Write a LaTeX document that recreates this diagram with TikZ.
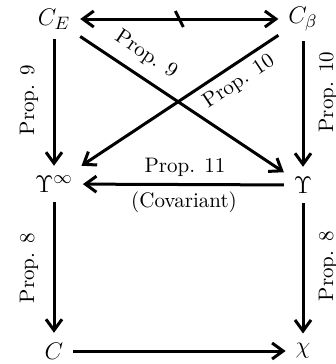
\documentclass[tikz,border=0pt]{standalone}
\usetikzlibrary{arrows.meta}
\begin{document}
\begin{tikzpicture}[x=0.5pt,y=-0.5pt,
  obj/.style={inner sep=0pt,outer sep=5pt,font=\fontsize{13}{15}\selectfont},
  arr/.style={line width=1.5pt,-{Straight Barb[length=5.5pt,width=8pt]}},
  lbl/.style={font=\fontsize{10.5}{12}\selectfont,inner sep=0pt}]
\useasboundingbox (0,0) rectangle (336,364);
\node[obj] (CE) at (54,19) {$C_E$};
\node[obj] (Cb) at (303,19) {$C_\beta$};
\node[obj] (Uinf) at (54,184) {$\Upsilon^\infty$};
\node[obj] (Ups) at (303,185) {$\Upsilon$};
\node[obj] (C) at (54,351) {$C$};
\node[obj] (chi) at (303,351) {$\chi$};
% arrows
\draw[arr] (CE) -- (Uinf);
\draw[arr] (Cb) -- (Ups);
\draw[arr] (Uinf) -- (C);
\draw[arr] (Ups) -- (chi);
\draw[arr] (C) -- (chi);
\draw[arr] (Ups) -- (Uinf);
\draw[arr] (CE) -- (Ups);
\draw[arr] (Cb) -- (Uinf);
\draw[line width=1.5pt,{Straight Barb[length=5.5pt,width=8pt]}-{Straight Barb[length=5.5pt,width=8pt]}] (CE) -- coordinate[midway] (tk) (Cb);
\draw[line width=1.5pt] ([shift={(-4,-8)}]tk) -- ([shift={(4,8)}]tk);
% labels
\node[lbl,rotate=90] (l9) at (29,100) {Prop. 9};
\node[lbl,rotate=90] (l10) at (328,92) {Prop. 10};
\node[lbl,rotate=90] (l8a) at (29,268) {Prop. 8};
\node[lbl,rotate=90] (l8b) at (328,266) {Prop. 8};
\node[lbl,rotate=-33.7] (d9) at (146,55) {Prop. 9};
\node[lbl,rotate=33.7] (d10) at (239,82) {Prop. 10};
\node[lbl] (p11) at (185,167) {Prop. 11};
\node[lbl] (cov) at (184,202) {(Covariant)};
\end{tikzpicture}
\end{document}
